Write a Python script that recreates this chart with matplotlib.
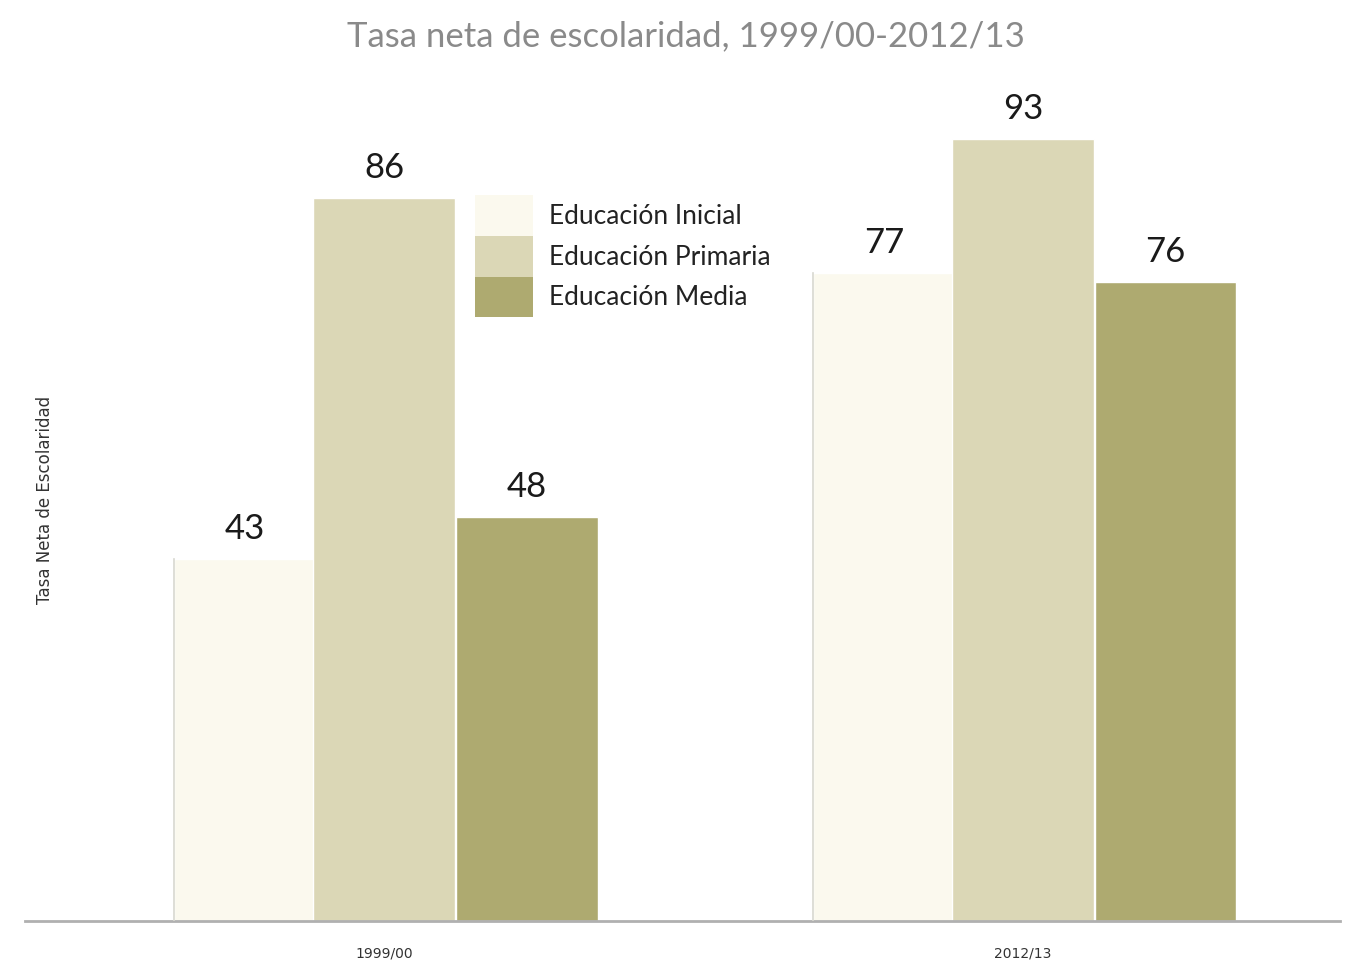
import matplotlib
matplotlib.use("Agg")
import matplotlib.pyplot as plt
import numpy as np

# Data
categories = ["1999/00", "2012/13"]
series_names = ["Educación Inicial", "Educación Primaria", "Educación Media"]
inicial = [43, 77]
primaria = [86, 93]
media = [48, 76]
title = "Tasa neta de escolaridad, 1999/00-2012/13"
ylabel = "Tasa Neta de Escolaridad"

colors = ["#fbf9ee", "#dbd7b6", "#aeaa70"]

W, H = 1366, 963
fig = plt.figure(figsize=(W / 100, H / 100), dpi=100)
ax = fig.add_axes([25 / W, 1 - 921 / H, (1340 - 25) / W, 883 / H])

x = np.arange(len(categories))
width = 0.222
offsets = [-0.218, 0.0, 0.223]
all_series = [inicial, primaria, media]
handles = []
for vals, off, col, name in zip(all_series, offsets, colors, series_names):
    bars = ax.bar(x + off, vals, width=width, color=col, edgecolor="white",
                  linewidth=1, label=name, zorder=2)
    handles.append(bars)
    for b, v in zip(bars, vals):
        ax.annotate(f"{v}", (b.get_x() + b.get_width() / 2, v),
                    xytext=(0, 14), textcoords="offset pixels",
                    ha="center", va="bottom", fontsize=25,
                    family="Lato", color="#1a1a1a")

# thin grey edge at the left side of Inicial bars
for i in range(len(categories)):
    ax.plot([x[i] + offsets[0] - width / 2] * 2, [0, inicial[i]],
            color="#d8d8d0", lw=1.2, zorder=3)

ax.set_xlim(-0.562, 1.496)
ax.set_ylim(0, 105)
for s in ["top", "right", "left"]:
    ax.spines[s].set_visible(False)
ax.spines["bottom"].set_color("#b0b0b0")
ax.spines["bottom"].set_linewidth(2)
ax.set_yticks([])
ax.set_xticks(x)
ax.set_xticklabels(categories, fontsize=10, family="Liberation Sans Narrow",
                   color="#333333")
ax.tick_params(axis="x", length=0, pad=18)

fig.text(45 / W, 1 - 500 / H, ylabel, rotation=90, ha="center", va="center",
         fontsize=12, family="Liberation Sans Narrow", color="#333333")

fig.text(686 / W, 1 - 36 / H, title, ha="center", va="center",
         fontsize=25, family="Lato", color="#8a8a8a")

leg = ax.legend(handles=handles, labels=series_names, loc="upper left",
                bbox_to_anchor=(475 / W, 1 - 195 / H),
                bbox_transform=fig.transFigure, frameon=False,
                borderpad=0, borderaxespad=0, labelspacing=0,
                handleheight=2.0, handlelength=2.2, handletextpad=0.6,
                prop={"family": "Lato", "size": 19})
for t in leg.get_texts():
    t.set_color("#222222")
for p in leg.get_patches():
    p.set_edgecolor("none")

fig.savefig("out.png", dpi=100, facecolor="white")
